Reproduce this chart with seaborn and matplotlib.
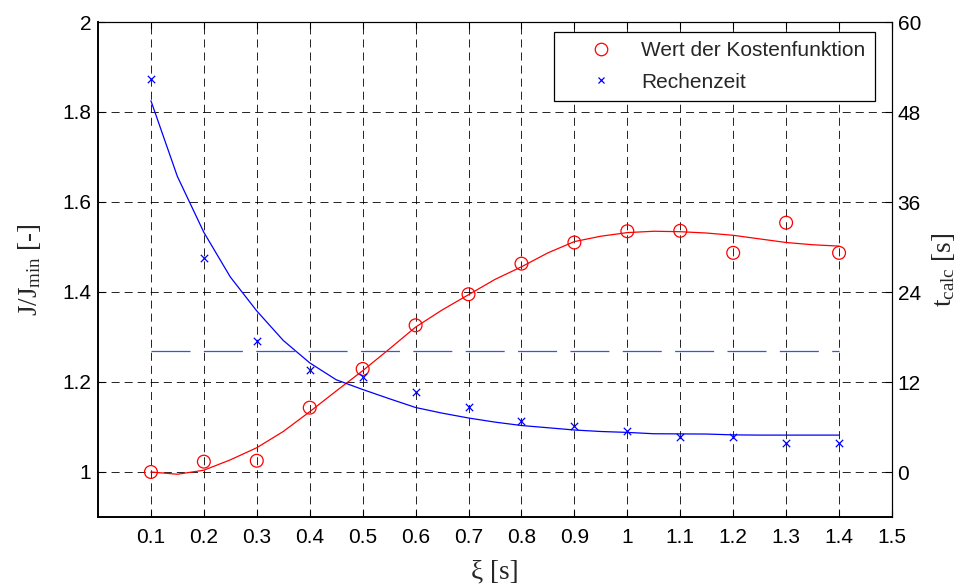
import matplotlib
matplotlib.use("Agg")
import matplotlib.pyplot as plt
from matplotlib.lines import Line2D
from matplotlib.ticker import FixedLocator, FuncFormatter
import pandas as pd
import seaborn as sns

# Measured points
xi = [0.1, 0.2, 0.3, 0.4, 0.5, 0.6, 0.7, 0.8, 0.9, 1.0, 1.1, 1.2, 1.3, 1.4]
cost_ratio = [1.000, 1.023, 1.025, 1.143, 1.229, 1.326, 1.395, 1.463, 1.510,
              1.535, 1.536, 1.487, 1.554, 1.487]
calc_time = [52.4, 28.6, 17.5, 13.66, 12.63, 10.66, 8.61, 6.83, 6.2, 5.53,
             4.64, 4.64, 3.92, 3.92]

# Fitted curves
xi_fit = [0.1, 0.15, 0.2, 0.25, 0.3, 0.35, 0.4, 0.45, 0.5, 0.55, 0.6, 0.65,
          0.7, 0.75, 0.8, 0.85, 0.9, 0.95, 1.0, 1.05, 1.1, 1.15, 1.2, 1.25,
          1.3, 1.35, 1.4]
cost_fit = [1.000, 0.995, 1.004, 1.027, 1.054, 1.090, 1.134, 1.180, 1.225,
            1.273, 1.322, 1.360, 1.394, 1.428, 1.456, 1.487, 1.512, 1.524,
            1.532, 1.535, 1.534, 1.531, 1.526, 1.518, 1.510, 1.505, 1.502]
time_fit = [49.5, 39.4, 31.95, 26.0, 21.47, 17.54, 14.55, 12.3, 11.0, 9.78,
            8.6, 7.85, 7.2, 6.65, 6.2, 5.9, 5.6, 5.4, 5.28, 5.1, 5.08, 5.06,
            4.95, 4.92, 4.92, 4.92, 4.92]

# Real-time limit
limit_x = [0.1, 1.4]
limit_t = [16.2, 16.2]

x_ticks = [0.1, 0.2, 0.3, 0.4, 0.5, 0.6, 0.7, 0.8, 0.9, 1.0, 1.1, 1.2, 1.3, 1.4, 1.5]
left_ticks = [1.0, 1.2, 1.4, 1.6, 1.8, 2.0]
right_ticks = [0, 12, 24, 36, 48, 60]
legend_labels = ["Wert der Kostenfunktion", "Rechenzeit"]

sns.set_theme(style="white")
plt.rcParams["font.family"] = ["Liberation Sans", "DejaVu Sans"]
plt.rcParams["lines.scale_dashes"] = False
plt.rcParams["mathtext.fontset"] = "custom"
plt.rcParams["mathtext.rm"] = "Liberation Serif"
plt.rcParams["mathtext.it"] = "Liberation Serif:italic"

df_pts = pd.DataFrame({"xi": xi, "J": cost_ratio, "t": calc_time})
df_fit = pd.DataFrame({"xi": xi_fit, "J": cost_fit, "t": time_fit})
df_lim = pd.DataFrame({"xi": limit_x, "t": limit_t})

fig = plt.figure(figsize=(9.63, 5.86), dpi=100)
ax = fig.add_axes([98 / 963, 1 - 517 / 586, 794 / 963, 495 / 586])
ax2 = ax.twinx()

tick_fs = 15
label_fs = 19.5

# Left axis: cost function ratio
sns.lineplot(data=df_fit, x="xi", y="J", ax=ax, color="#ff0000", lw=0.9,
             sort=False, estimator=None, legend=False)
sns.scatterplot(data=df_pts, x="xi", y="J", ax=ax, marker="o", s=85,
                facecolor="none", edgecolor="#ff0000", linewidth=0.9,
                legend=False, zorder=3)

# Right axis: computation time
sns.lineplot(data=df_fit, x="xi", y="t", ax=ax2, color="#0000ff", lw=0.9,
             sort=False, estimator=None, legend=False)
sns.lineplot(data=df_lim, x="xi", y="t", ax=ax2, color="#3355ee", lw=0.9,
             sort=False, estimator=None, legend=False, dashes=False)
ax2.lines[-1].set_dashes((28.1, 9.6))
sns.scatterplot(data=df_pts, x="xi", y="t", ax=ax2, marker="x", s=28,
                color="#0000ff", linewidth=0.9, legend=False, zorder=3)

ax.set_xlim(0, 1.5)
ax.set_ylim(0.9, 2.0)
ax2.set_ylim(-6, 60)

ax.xaxis.set_major_locator(FixedLocator(x_ticks))
ax.xaxis.set_major_formatter(FuncFormatter(lambda v, p: f"{v:g}"))
ax.yaxis.set_major_locator(FixedLocator(left_ticks))
ax.yaxis.set_major_formatter(FuncFormatter(lambda v, p: f"{v:g}"))
ax2.yaxis.set_major_locator(FixedLocator(right_ticks))

ax.grid(True, color="black", linestyle=(0, (5.8, 3.6)), linewidth=0.6)
ax.set_axisbelow(True)

ax.tick_params(axis="x", direction="in", length=5, width=0.8, top=True,
               bottom=True, labelsize=tick_fs, pad=8, colors="black")
ax.tick_params(axis="y", direction="in", length=5, width=0.8, left=True,
               right=False, labelsize=tick_fs, pad=5, colors="black")
ax2.tick_params(axis="y", direction="in", length=5, width=0.8, right=True,
                labelsize=tick_fs, pad=4, colors="black")

for name, sp in ax.spines.items():
    sp.set_color("black")
    sp.set_linewidth(1.4 if name in ("left", "bottom") else 0.8)
for name, sp in ax2.spines.items():
    sp.set_color("black")
    sp.set_linewidth(0.8)
ax2.spines["left"].set_visible(False)
ax2.spines["bottom"].set_visible(False)

serif = ["Liberation Serif", "DejaVu Serif"]
ax.set_xlabel("ξ [s]", fontsize=label_fs, family=serif)
ax.xaxis.set_label_coords(0.5, -0.086)
ax.set_ylabel(r"J/J$_{\mathrm{min}}$ [-]", fontsize=label_fs, family=serif)
ax.yaxis.set_label_coords(-0.069, 0.5)
ax2.set_ylabel(r"t$_{\mathrm{calc}}$ [s]", fontsize=label_fs, family=serif)
ax2.yaxis.set_label_coords(1.048, 0.5)

handles = [
    Line2D([], [], marker="o", linestyle="None", markerfacecolor="none",
           markeredgecolor="#ff0000", markersize=9, markeredgewidth=0.9),
    Line2D([], [], marker="x", linestyle="None", color="#0000ff",
           markersize=5, markeredgewidth=0.9),
]
leg = ax2.legend(handles, legend_labels, loc="upper left",
                 bbox_to_anchor=(554 / 963, 1 - 32.3 / 586),
                 bbox_transform=fig.transFigure, fontsize=15,
                 frameon=True, fancybox=False, edgecolor="black",
                 framealpha=1, borderpad=0.44, handlelength=3.65,
                 handletextpad=0.1, labelspacing=0.59, borderaxespad=0,
                 numpoints=1)
leg.get_frame().set_linewidth(0.9)

fig.savefig("out.png", dpi=100, facecolor="white")
